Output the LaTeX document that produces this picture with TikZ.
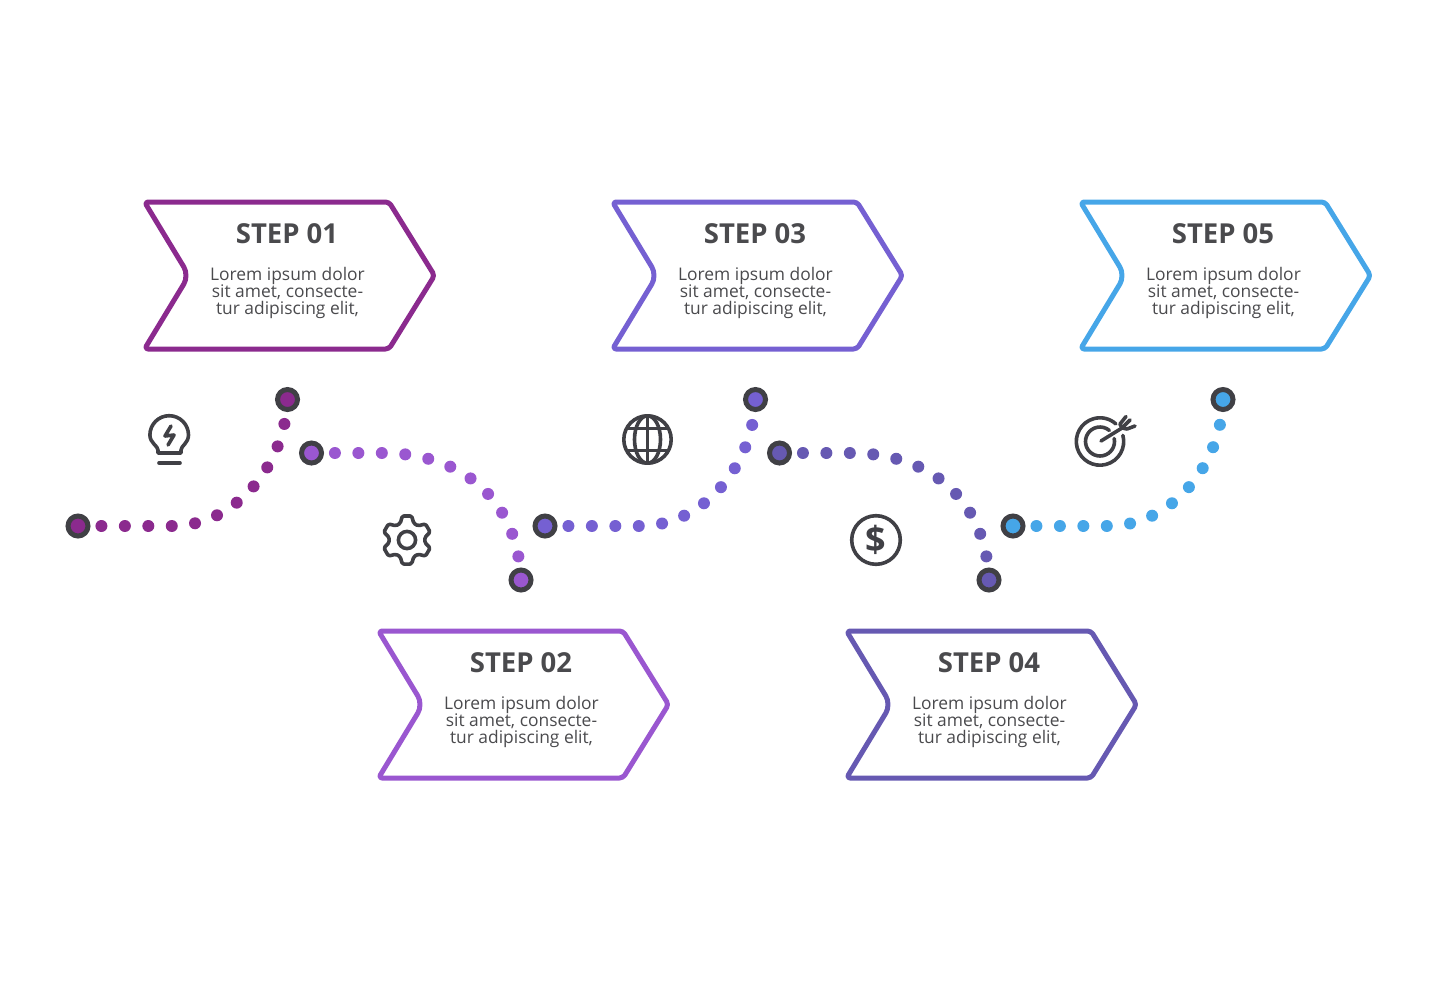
\documentclass[tikz,border=0pt]{standalone}
\usepackage{fontspec}
\setmainfont{Open Sans}
\usetikzlibrary{backgrounds}
\definecolor{stepA}{HTML}{8B2A8E}
\definecolor{stepB}{HTML}{9A57D0}
\definecolor{stepC}{HTML}{7560D2}
\definecolor{stepD}{HTML}{6659B2}
\definecolor{stepE}{HTML}{46A6E8}
\definecolor{ink}{HTML}{404045}
\definecolor{textink}{HTML}{4A4A4D}
\tikzset{
  arrowbox/.style={line width=5, line join=round, rounded corners=3.5},
  titletext/.style={text=textink, font=\fontsize{27.5}{32}\selectfont\bfseries},
  bodytext/.style={text=textink, align=center, font=\fontsize{17.4}{17}\selectfont},
  waypoint/.style={shape=circle, draw=ink, line width=5, minimum size=20, inner sep=0},
  dotline/.style={line width=12, line cap=round, dash pattern=on 0pt off 23.45pt, dash phase=0.01pt},
  iconline/.style={draw=ink, line width=3.6, line join=round, line cap=round},
}
\begin{document}
\begin{tikzpicture}[x=1pt, y=-1pt]
\useasboundingbox (0,0) rectangle (1435,980);

\draw[arrowbox, draw=stepA] (144.5,202) -- ++(244.5,0) -- ++(45.5,73.5) -- ++(-45.5,73.5) -- ++(-244.5,0) [rounded corners=10] -- ++(44.5,-73.5) [rounded corners=3.5] -- cycle;
\draw[arrowbox, draw=stepB] (378.5,631) -- ++(244.5,0) -- ++(45.5,73.5) -- ++(-45.5,73.5) -- ++(-244.5,0) [rounded corners=10] -- ++(44.5,-73.5) [rounded corners=3.5] -- cycle;
\draw[arrowbox, draw=stepC] (612.5,202) -- ++(244.5,0) -- ++(45.5,73.5) -- ++(-45.5,73.5) -- ++(-244.5,0) [rounded corners=10] -- ++(44.5,-73.5) [rounded corners=3.5] -- cycle;
\draw[arrowbox, draw=stepD] (846.5,631) -- ++(244.5,0) -- ++(45.5,73.5) -- ++(-45.5,73.5) -- ++(-244.5,0) [rounded corners=10] -- ++(44.5,-73.5) [rounded corners=3.5] -- cycle;
\draw[arrowbox, draw=stepE] (1080.5,202) -- ++(244.5,0) -- ++(45.5,73.5) -- ++(-45.5,73.5) -- ++(-244.5,0) [rounded corners=10] -- ++(44.5,-73.5) [rounded corners=3.5] -- cycle;

\node[titletext] (title1) at (287,234) {STEP 01};
\node[titletext] (title2) at (521,663) {STEP 02};
\node[titletext] (title3) at (755,234) {STEP 03};
\node[titletext] (title4) at (989,663) {STEP 04};
\node[titletext] (title5) at (1223,234) {STEP 05};

\node[bodytext] (body1) at (287.5,292.5) {Lorem ipsum dolor\\sit amet, consecte-\\tur adipiscing elit,};
\node[bodytext] (body2) at (521.5,721.5) {Lorem ipsum dolor\\sit amet, consecte-\\tur adipiscing elit,};
\node[bodytext] (body3) at (755.5,292.5) {Lorem ipsum dolor\\sit amet, consecte-\\tur adipiscing elit,};
\node[bodytext] (body4) at (989.5,721.5) {Lorem ipsum dolor\\sit amet, consecte-\\tur adipiscing elit,};
\node[bodytext] (body5) at (1223.5,292.5) {Lorem ipsum dolor\\sit amet, consecte-\\tur adipiscing elit,};

\node[waypoint, fill=stepA] (start1) at (78,526) {};
\node[waypoint, fill=stepA] (end1) at (287.5,399.5) {};
\node[waypoint, fill=stepB] (start2) at (311.5,453) {};
\node[waypoint, fill=stepB] (end2) at (521,580) {};
\node[waypoint, fill=stepC] (start3) at (545,526) {};
\node[waypoint, fill=stepC] (end3) at (755.5,399.5) {};
\node[waypoint, fill=stepD] (start4) at (779.5,453) {};
\node[waypoint, fill=stepD] (end4) at (989,580) {};
\node[waypoint, fill=stepE] (start5) at (1013,526) {};
\node[waypoint, fill=stepE] (end5) at (1223,399.5) {};

\begin{scope}[on background layer]
\draw[dotline, draw=stepA] (start1.center) -- (172,526) .. controls (236,526) and (285,465) .. (end1.center);
\draw[dotline, draw=stepB] (start2.center) -- (382,453) .. controls (468,453) and (518,505) .. (end2.center);
\draw[dotline, draw=stepC] (start3.center) -- (640,526) .. controls (704,526) and (753,465) .. (end3.center);
\draw[dotline, draw=stepD] (start4.center) -- (850,453) .. controls (936,453) and (986,505) .. (end4.center);
\draw[dotline, draw=stepE] (start5.center) -- (1108,526) .. controls (1172,526) and (1221,465) .. (end5.center);
\end{scope}

% bulb
\draw[iconline] (158,453) -- (181,453) -- (181,450) .. controls (181,446) and (188.5,443) .. (188.5,435) arc[start angle=0, end angle=-180, radius=19.3] .. controls (149.9,443) and (158,446) .. (158,450) -- cycle;
\draw[iconline] (159,463) -- (180,463);
\draw[iconline] (171,426) -- (165,436) -- (174,435) -- (168,445);

% gear
\begin{scope}[shift={(407,540)}]
\draw[iconline, rounded corners=1.5] (79:24.5) \foreach \a in {90,150,210,270,330,390} {-- (\a-11:24.5) -- (\a+11:24.5) -- (\a+22:18) -- (\a+38:18)} -- cycle;
\draw[iconline] (0,0) circle (8.6);
\end{scope}

% globe
\draw[iconline] (647.5,439.5) circle (23.7);
\draw[iconline] (647.5,439.5) ellipse (13 and 23.7);
\draw[iconline] (647.5,416) -- (647.5,463);
\draw[iconline] (627,428.5) -- (668,428.5);
\draw[iconline] (627,450.5) -- (668,450.5);

% dollar
\draw[iconline] (876,540) circle (24.3);
\node[text=ink, font=\fontsize{36}{40}\selectfont\bfseries] (dollar) at (876,540) {\$};

% target
\draw[iconline] (1100,441.5) ++(-15:23.7) arc[start angle=-15, end angle=312, radius=23.7];
\draw[iconline] (1100,441.5) ++(-12:14.5) arc[start angle=-12, end angle=310, radius=14.5];
\draw[iconline] (1101,441) -- (1122,428);
\draw[iconline] (1122,428) -- (1120,424) -- (1126,416.5);
\draw[iconline] (1122,428) -- (1127,429) -- (1135,426);
\draw[iconline] (1122,428) -- (1130,420);
\end{tikzpicture}
\end{document}
